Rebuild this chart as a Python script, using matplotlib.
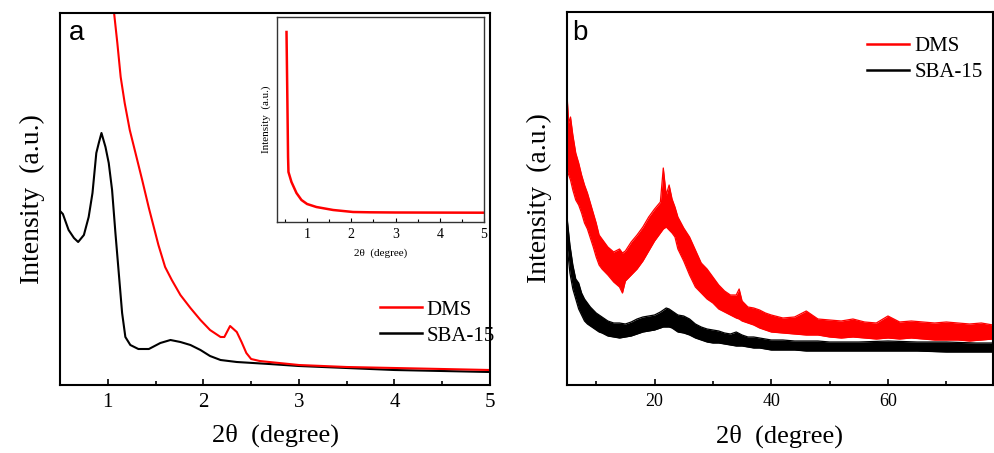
import matplotlib
matplotlib.use("Agg")
import matplotlib.pyplot as plt
from matplotlib.lines import Line2D
from matplotlib.ticker import MultipleLocator

plt.rcParams["font.family"] = ["Liberation Serif", "DejaVu Serif"]

# panel a: small-angle XRD (intensity in arbitrary units)
sba_a_x = [0.5, 0.53, 0.59, 0.646, 0.69, 0.75, 0.80, 0.84, 0.88, 0.906, 0.934, 0.976, 1.01,
           1.045, 1.08, 1.115, 1.15, 1.184, 1.236, 1.32, 1.43, 1.55, 1.656, 1.76, 1.865,
           1.97, 2.07, 2.18, 2.35, 2.69, 3.0, 3.5, 4.0, 4.5, 5.0]
sba_a_y = [174, 171, 155, 147, 143, 150, 168, 192, 232, 242, 252, 238, 222,
           195, 152, 112, 72, 48, 40, 36, 36, 42, 45, 43, 40,
           35, 29, 25, 23, 21, 19, 17, 15, 14, 13]

dms_a_x = [1.05, 1.066, 1.10, 1.135, 1.177, 1.23, 1.29, 1.36, 1.43, 1.53, 1.60, 1.67, 1.76,
           1.865, 1.97, 2.07, 2.18, 2.22, 2.28, 2.35, 2.40, 2.45, 2.50, 2.59, 2.69, 3.0, 3.5,
           4.0, 4.5, 5.0]
dms_a_y = [385, 372, 342, 308, 282, 255, 232, 205, 177, 140, 118, 105, 90,
           77, 65, 55, 48, 48, 59, 53, 43, 32, 26, 24, 23, 20, 18,
           17, 16, 15]

# inset: DMS over full small-angle range
dms_in_x = [0.535, 0.555, 0.57, 0.579, 0.647, 0.76, 0.873, 1.0, 1.21, 1.59, 2.04, 2.42, 3.0, 4.0, 5.0]
dms_in_y = [190, 120, 65, 50, 40, 29, 22, 18, 15, 12, 10, 9.7, 9.5, 9.4, 9.3]

# panel b: wide-angle XRD, noisy traces read as lower / upper envelope
dms_b_x = [5.0, 5.3, 5.6, 6.0, 6.5, 7.0, 7.5, 8.0, 8.5, 9.0, 9.5, 10, 10.5, 11, 12, 13, 14, 14.5,
           15, 16, 17, 18, 19, 20, 21, 21.5, 22, 22.5, 23, 23.5, 24, 25, 26, 27, 28, 29, 30,
           31, 32, 33, 34, 34.5, 35, 36, 37, 38, 39, 40, 42, 44, 46, 48, 50, 52, 54, 56,
           58, 60, 62, 64, 66, 68, 70, 72, 74, 76, 78]
dms_b_hi = [290, 262, 268, 250, 232, 222, 210, 200, 192, 182, 172, 162, 150, 146, 138, 133, 136, 132,
            134, 143, 150, 158, 168, 176, 183, 217, 190, 200, 186, 178, 168, 157, 148, 135, 122, 116, 108,
            100, 94, 90, 90, 96, 84, 78, 77, 75, 72, 70, 67, 68, 74, 66, 65, 64, 66, 63,
            62, 69, 63, 64, 63, 62, 63, 62, 61, 62, 60]
dms_b_lo = [215, 210, 205, 195, 185, 180, 172, 162, 156, 147, 138, 128, 120, 116, 110, 103, 98, 92,
            104, 110, 116, 124, 134, 144, 152, 156, 158, 155, 152, 148, 136, 124, 110, 98, 92, 86, 82,
            76, 73, 70, 67, 66, 64, 62, 60, 57, 55, 53, 52, 51, 50, 50, 48, 47, 48, 47,
            46, 47, 46, 47, 46, 45, 45, 45, 44, 45, 46]

sba_b_x = [5.0, 5.5, 6.0, 6.5, 7.0, 7.5, 8.0, 8.5, 9.0, 9.5, 10, 10.5, 11, 12, 13, 14, 15, 16,
           17, 18, 19, 20, 21, 21.5, 22, 22.5, 23, 23.5, 24, 25, 26, 27, 28, 29, 30, 31, 32,
           33, 34, 35, 36, 37, 38, 39, 40, 42, 44, 46, 48, 50, 55, 60, 65, 70, 75, 78]
sba_b_hi = [168, 140, 120, 106, 102, 92, 86, 82, 78, 75, 72, 70, 68, 64, 62, 62, 61, 63,
            66, 68, 69, 70, 73, 75, 77, 76, 74, 72, 70, 69, 66, 61, 58, 56, 55, 54, 52,
            51, 53, 50, 48, 48, 47, 46, 45, 45, 44, 44, 44, 43, 43, 44, 43, 43, 42, 42]
sba_b_lo = [140, 112, 96, 86, 76, 70, 64, 61, 59, 57, 55, 53, 52, 49, 48, 47, 48, 49,
            51, 53, 54, 55, 57, 58, 58, 58, 57, 55, 53, 52, 50, 47, 45, 43, 42, 42, 41,
            40, 39, 39, 38, 37, 37, 36, 35, 35, 35, 34, 34, 34, 34, 34, 34, 33, 33, 33]

RED = "#ff0000"
BLACK = "#000000"


def style_axes(ax, xlabel_size, tick_size):
    for s in ax.spines.values():
        s.set_linewidth(1.5)
    ax.set_yticks([])
    ax.tick_params(axis="x", which="major", direction="in", length=4.5, width=1.2,
                   labelsize=tick_size, pad=6, top=False)
    ax.tick_params(axis="x", which="minor", direction="in", length=3, width=1.2, top=False)
    ax.set_xlabel("2θ  (degree)", fontsize=xlabel_size)
    ax.set_ylabel("Intensity  (a.u.)", fontsize=20)
    ax.yaxis.set_label_coords(-0.035, 0.5)
    ax.xaxis.set_label_coords(0.5, -0.105)


def add_legend(ax, x, y):
    handles = [Line2D([], [], color=RED, lw=1.8), Line2D([], [], color=BLACK, lw=1.8)]
    ax.legend(handles, ["DMS", "SBA-15"], loc="upper left", bbox_to_anchor=(x, y),
              frameon=False, fontsize=15, handlelength=2.0, handletextpad=0.25,
              labelspacing=0.3, borderpad=0, borderaxespad=0)


def draw_band(ax, x, lo, hi, color):
    ax.fill_between(x, lo, hi, color=color, lw=0)
    ax.plot(x, hi, color=color, lw=0.9)
    ax.plot(x, lo, color=color, lw=0.9)


def main():
    fig = plt.figure(figsize=(9.94, 4.53), dpi=100)

    # panel a
    ax_a = fig.add_axes([60 / 994, 68 / 453, 430 / 994, 372 / 453])
    ax_a.plot(sba_a_x, sba_a_y, color=BLACK, lw=1.5)
    ax_a.plot(dms_a_x, dms_a_y, color=RED, lw=1.5)
    ax_a.set_xlim(0.5, 5)
    ax_a.set_ylim(0, 372)
    ax_a.xaxis.set_major_locator(MultipleLocator(1))
    ax_a.xaxis.set_minor_locator(MultipleLocator(0.5))
    style_axes(ax_a, 19, 15)
    ax_a.text(0.02, 0.945, "a", transform=ax_a.transAxes, fontsize=20,
              family="Liberation Sans", ha="left", va="center")
    add_legend(ax_a, 0.744, 0.228)

    # inset
    ax_in = fig.add_axes([277 / 994, 231 / 453, 207 / 994, 205 / 453])
    ax_in.plot(dms_in_x, dms_in_y, color=RED, lw=1.8)
    ax_in.set_xlim(0.32, 5)
    ax_in.set_ylim(0, 205)
    ax_in.set_yticks([])
    ax_in.xaxis.set_major_locator(MultipleLocator(1))
    ax_in.xaxis.set_minor_locator(MultipleLocator(0.5))
    for s in ax_in.spines.values():
        s.set_linewidth(1.0)
        s.set_color("#333333")
    ax_in.tick_params(axis="x", which="major", direction="in", length=3, width=0.8,
                      labelsize=10, pad=4)
    ax_in.tick_params(axis="x", which="minor", direction="in", length=2, width=0.8)
    ax_in.set_xlabel("2θ  (degree)", fontsize=8, labelpad=6)
    ax_in.set_ylabel("Intensity  (a.u.)", fontsize=8, labelpad=4)

    # panel b
    ax_b = fig.add_axes([567 / 994, 68 / 453, 426 / 994, 373 / 453])
    draw_band(ax_b, dms_b_x, dms_b_lo, dms_b_hi, RED)
    draw_band(ax_b, sba_b_x, sba_b_lo, sba_b_hi, BLACK)
    ax_b.set_xlim(5, 78)
    ax_b.set_ylim(0, 373)
    ax_b.xaxis.set_major_locator(MultipleLocator(20))
    ax_b.xaxis.set_minor_locator(MultipleLocator(10))
    style_axes(ax_b, 19, 13)
    ax_b.text(0.012, 0.945, "b", transform=ax_b.transAxes, fontsize=20,
              family="Liberation Sans", ha="left", va="center")
    add_legend(ax_b, 0.705, 0.934)

    fig.savefig("out.png", dpi=100)
    plt.close(fig)


if __name__ == "__main__":
    main()
